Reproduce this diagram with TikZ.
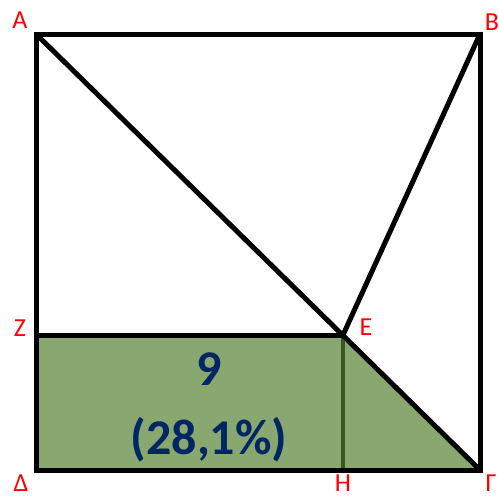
\documentclass[tikz,border=0pt]{standalone}
\usepackage{fontspec}
\setmainfont{Carlito}
\usepackage{tikz}
\usetikzlibrary{positioning, calc}
\definecolor{areagreen}{RGB}{137, 168, 112}
\definecolor{edgegreen}{RGB}{56, 87, 35}
\definecolor{labelred}{RGB}{255, 0, 0}
\definecolor{areablue}{RGB}{0, 38, 100}
\tikzset{
    side/.style={draw, black, line width=5pt},
    pt/.style={font=\fontsize{26}{28}\selectfont, text=labelred, inner sep=0pt},
    area/.style={font=\bfseries\fontsize{50}{54}\selectfont, text=areablue, inner sep=0pt}
}

\begin{document}
\begin{tikzpicture}[x=1pt, y=-1pt]
    \useasboundingbox (0,0) rectangle (499,499);
    % Vertices
    \coordinate (A) at (36,34);
    \coordinate (B) at (480,34);
    \coordinate (G) at (480,470);
    \coordinate (D) at (36,470);
    \coordinate (Z) at (36,335);
    \coordinate (E) at (343,335);
    \coordinate (H) at (343,470);

    % Shaded area
    \fill[areagreen] (Z) -- (E) -- (G) -- (D) -- cycle;
    \draw[edgegreen, line width=4pt] (E) -- (H);

    % Sides and segments
    \draw[side] (A) -- (B) -- (G) -- (D) -- cycle;
    \draw[side] (A) -- (G);
    \draw[side] (B) -- (E);
    \draw[side] (Z) -- (E);

    % Labels
    \node[pt] (lA) at (20,20) {A};
    \node[pt] (lB) at (492,22) {B};
    \node[pt] (lG) at (491,483) {Γ};
    \node[pt] (lD) at (21,483) {Δ};
    \node[pt] (lZ) at (20,328) {Z};
    \node[pt] (lE) at (366,327) {E};
    \node[pt] (lH) at (343,483) {H};
    \node[area] (val) at (209,369) {9};
    \node[area] (pct) at (209,440) {(28,1\%)};
\end{tikzpicture}
\end{document}
